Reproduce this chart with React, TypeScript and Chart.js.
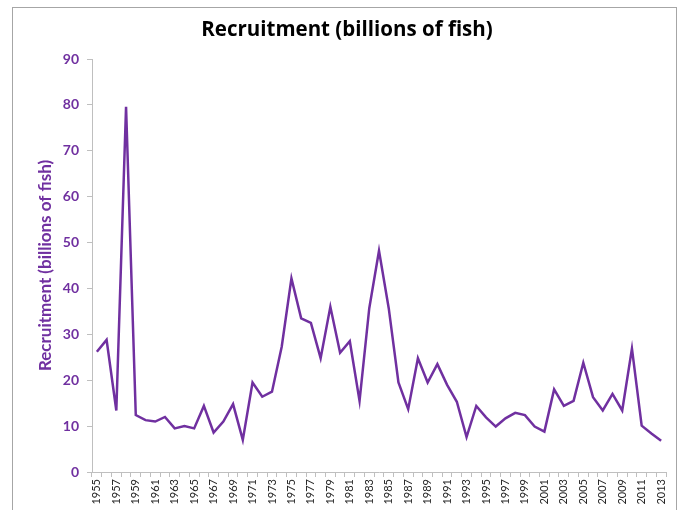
import React, { useEffect, useRef } from "react";
import { Chart, registerables } from "chart.js";

Chart.register(...registerables);

const years: string[] = [];
for (let y = 1955; y <= 2013; y++) years.push(String(y));

const recruitment: number[] = [
  26.2, 28.8, 13.4, 79.6, 12.4, 11.3, 11.0, 12.0, 9.5, 10.0,
  9.5, 14.4, 8.6, 11.0, 14.8, 7.0, 19.5, 16.4, 17.5, 27.3,
  42.2, 33.5, 32.5, 24.8, 36.0, 26.0, 28.5, 15.5, 35.7, 48.2,
  35.7, 19.5, 13.7, 24.8, 19.5, 23.5, 19.0, 15.3, 7.6, 14.4,
  11.9, 9.9, 11.7, 12.9, 12.4, 9.9, 8.8, 18.0, 14.4, 15.5,
  23.8, 16.3, 13.4, 17.0, 13.4, 26.9, 10.1, 8.4, 6.8,
];

const titleText = "Recruitment (billions of fish)";
const yTitleText = "Recruitment (billions of fish)";

const PURPLE = "#7030A0";
const FONT = "Lato, 'Open Sans', sans-serif";

const titlePlugin = {
  id: "customTitle",
  afterDraw(chart: any) {
    const ctx = chart.ctx;
    ctx.save();
    ctx.font = "bold 20.5px 'Open Sans', sans-serif";
    ctx.fillStyle = "#000000";
    ctx.textAlign = "center";
    ctx.textBaseline = "middle";
    ctx.fillText(titleText, 347, 30);
    ctx.restore();
  },
};

export default function App() {
  const ref = useRef<HTMLCanvasElement | null>(null);

  useEffect(() => {
    if (!ref.current) return;
    const chart = new Chart(ref.current, {
      type: "line",
      data: {
        labels: years,
        datasets: [
          {
            data: recruitment,
            borderColor: PURPLE,
            backgroundColor: PURPLE,
            borderWidth: 2.5,
            pointRadius: 0,
            tension: 0,
            fill: false,
          },
        ],
      },
      plugins: [titlePlugin],
      options: {
        responsive: false,
        animation: false,
        layout: { padding: { left: 0, right: 23, top: 59, bottom: 0 } },
        plugins: {
          legend: { display: false },
          tooltip: { enabled: false },
          title: { display: false },
        },
        scales: {
          x: {
            type: "category",
            offset: true,
            grid: {
              offset: true,
              drawOnChartArea: false,
              drawTicks: true,
              tickLength: 5,
              color: "#bfbfbf",
            },
            border: { display: true, color: "#bfbfbf", width: 1 },
            ticks: {
              autoSkip: false,
              minRotation: 90,
              maxRotation: 90,
              padding: 2,
              color: "#262626",
              font: { family: FONT, size: 11 },
              callback: function (_v: any, i: number) {
                return i % 2 === 0 ? years[i] : "";
              },
            },
            afterFit: (s: any) => {
              s.height = 38;
            },
          },
          y: {
            min: 0,
            max: 90,
            grid: {
              drawOnChartArea: false,
              drawTicks: true,
              tickLength: 5,
              color: "#bfbfbf",
            },
            border: { display: true, color: "#bfbfbf", width: 1 },
            ticks: {
              stepSize: 10,
              padding: 8,
              color: PURPLE,
              font: { family: FONT, size: 14, weight: "bold" },
            },
            title: {
              display: true,
              text: yTitleText,
              color: PURPLE,
              font: { family: FONT, size: 17, weight: "bold" },
              padding: { top: 35, bottom: 0 },
            },
            afterFit: (s: any) => {
              s.width = 92;
            },
          },
        },
      },
    });
    return () => chart.destroy();
  }, []);

  return (
    <div style={{ position: "fixed", left: 0, top: 0, width: 689, height: 510, background: "#fff", overflow: "hidden" }}>
      <div
        style={{
          position: "absolute",
          left: 12,
          top: 7,
          width: 665,
          height: 530,
          border: "1.5px solid #a6a6a6",
          boxSizing: "border-box",
        }}
      />
      <canvas ref={ref} width={689} height={510} style={{ position: "absolute", left: 0, top: 0 }} />
    </div>
  );
}
